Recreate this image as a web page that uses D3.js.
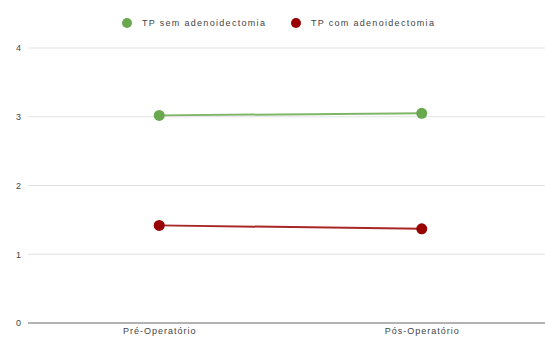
<!DOCTYPE html>
<html>
<head>
<meta charset="utf-8">
<script src="https://cdn.jsdelivr.net/npm/d3@7/dist/d3.min.js"></script>
<style>
  html, body { margin: 0; padding: 0; background: #fff; }
  svg { display: block; font-family: Arial, "Liberation Sans", sans-serif; }
</style>
</head>
<body>
<svg id="chart" width="545" height="341"></svg>
<script>
// Chart data
const categories = ["Pré-Operatório", "Pós-Operatório"];
const seriesNames = ["TP sem adenoidectomia", "TP com adenoidectomia"];
const semAdenoidectomia = [3.02, 3.05];
const comAdenoidectomia = [1.42, 1.37];
const yTicks = [0, 1, 2, 3, 4];
const colors = ["#6aa84f", "#990000"];

const series = [
  { name: seriesNames[0], values: semAdenoidectomia, color: colors[0] },
  { name: seriesNames[1], values: comAdenoidectomia, color: colors[1] }
];

const svg = d3.select("#chart");
const W = 545, H = 341;
const margin = { left: 28, right: -8, top: 48, bottom: 18 };

const x = d3.scalePoint()
  .domain(categories)
  .range([margin.left, W - margin.right])
  .padding(0.5);

const y = d3.scaleLinear()
  .domain([0, 4])
  .range([323, 48]);

// Horizontal gridlines
const grid = svg.append("g");
grid.selectAll("line")
  .data(yTicks.filter(d => d !== 0))
  .join("line")
  .attr("x1", margin.left)
  .attr("x2", W)
  .attr("y1", d => y(d))
  .attr("y2", d => y(d))
  .attr("stroke", "#e2e2e2")
  .attr("stroke-width", 1.2);

// Y axis labels
const yAxis = d3.axisLeft(y).tickValues(yTicks).tickSize(0).tickPadding(0).tickFormat(d3.format("d"));
const ya = svg.append("g").attr("transform", `translate(21,0)`).call(yAxis);
ya.select(".domain").remove();
ya.selectAll("text")
  .attr("fill", "#444")
  .attr("font-size", 9)
  .attr("font-family", "Arial, 'Liberation Sans', sans-serif");

// Baseline
svg.append("line")
  .attr("x1", margin.left)
  .attr("x2", W)
  .attr("y1", y(0))
  .attr("y2", y(0))
  .attr("stroke", "#999")
  .attr("stroke-width", 1.6);

// X axis labels
const xAxis = d3.axisBottom(x).tickSize(0).tickPadding(0);
const xa = svg.append("g").attr("transform", `translate(0,${y(0) + 5})`).call(xAxis);
xa.select(".domain").remove();
xa.selectAll("text")
  .attr("fill", "#444")
  .attr("font-size", 9)
  .attr("letter-spacing", "1px")
  .attr("dy", "0.71em")
  .attr("font-family", "Arial, 'Liberation Sans', sans-serif");

// Lines and points
const line = d3.line()
  .x((d, i) => x(categories[i]))
  .y(d => y(d));

series.forEach(s => {
  svg.append("path")
    .datum(s.values)
    .attr("d", line)
    .attr("fill", "none")
    .attr("stroke", s.color)
    .attr("stroke-opacity", 0.85)
    .attr("stroke-width", 2);
  svg.append("g").selectAll("circle")
    .data(s.values)
    .join("circle")
    .attr("cx", (d, i) => x(categories[i]))
    .attr("cy", d => y(d))
    .attr("r", 5.5)
    .attr("fill", s.color);
});

// Legend
const legendItems = [
  { name: seriesNames[0], color: colors[0], x: 127 },
  { name: seriesNames[1], color: colors[1], x: 296 }
];
const lg = svg.append("g");
legendItems.forEach(item => {
  lg.append("circle")
    .attr("cx", item.x)
    .attr("cy", 23)
    .attr("r", 5)
    .attr("fill", item.color);
  lg.append("text")
    .attr("x", item.x + 15)
    .attr("y", 23)
    .attr("dy", "0.35em")
    .attr("font-size", 9)
    .attr("letter-spacing", "1.3px")
    .attr("fill", "#444")
    .text(item.name);
});
</script>
</body>
</html>
